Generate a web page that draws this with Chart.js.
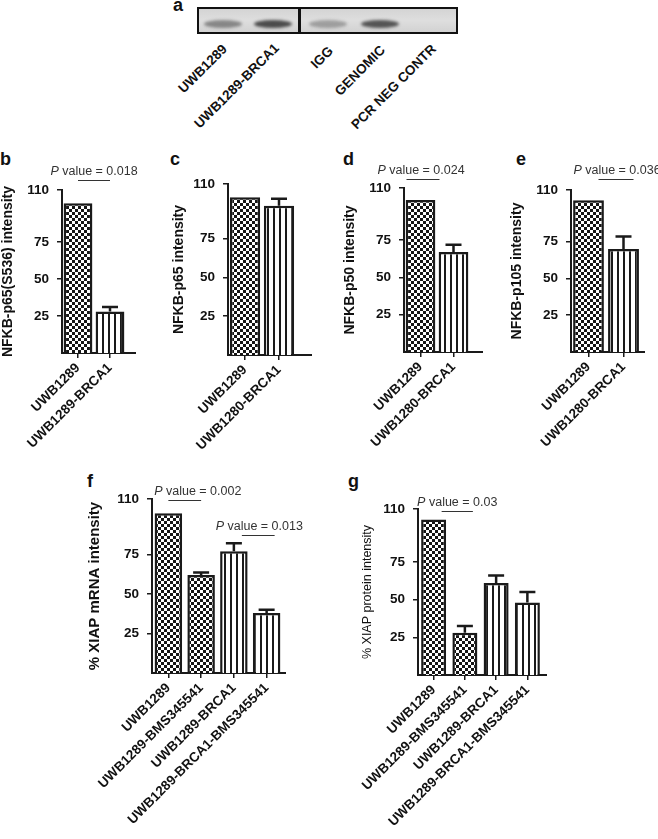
<!DOCTYPE html>
<html>
<head>
<meta charset="utf-8">
<script src="https://cdn.jsdelivr.net/npm/chart.js@4.4.0/dist/chart.umd.min.js"></script>
<style>
  body { margin: 0; background: #fff; font-family: "Liberation Sans", Arial, Helvetica, sans-serif; }
  #fig { position: relative; width: 658px; height: 839px; overflow: hidden; background: #fff; }
  #fig canvas { position: absolute; }
  .tag { position: absolute; font-weight: bold; font-size: 18px; line-height: 1; color: #111; }
  .gel { position: absolute; box-sizing: border-box; border: 2px solid #111; background: linear-gradient(#d4d4d4, #dedede 50%, #d2d2d2); overflow: hidden; }
  .band { position: absolute; border-radius: 50%; filter: blur(1.6px); }
  .lane { position: absolute; width: 200px; text-align: right; font-weight: bold; font-size: 13.5px; line-height: 16px; color: #111; transform-origin: 100% 50%; transform: rotate(-45deg); white-space: nowrap; }
</style>
</head>
<body>
<div id="fig">
  <div class="tag" style="left:173px;top:-4px;">a</div>
  <div class="tag" style="left:0px;top:150px;">b</div>
  <div class="tag" style="left:170px;top:150px;">c</div>
  <div class="tag" style="left:343px;top:150px;">d</div>
  <div class="tag" style="left:516px;top:150px;">e</div>
  <div class="tag" style="left:87px;top:472px;">f</div>
  <div class="tag" style="left:348px;top:472px;">g</div>
</div>
<script>
// ---- data ----
const yTicks = [25, 50, 75, 110];

const gelLanes = ['UWB1289', 'UWB1289-BRCA1', 'IGG', 'GENOMIC', 'PCR NEG CONTR'];
const gelBands = [0.42, 0.72, 0.3, 0.68, 0];

const labelsB = ['UWB1289', 'UWB1289-BRCA1'];
const valuesB = [101, 28];
const errorsB = [0, 3];
const pairsB = [[0, 1]];
const pB = ['0.018'];

const labelsC = ['UWB1289', 'UWB1280-BRCA1'];
const valuesC = [101.5, 96];
const errorsC = [0, 4.5];

const labelsD = ['UWB1289', 'UWB1280-BRCA1'];
const valuesD = [102, 67];
const errorsD = [0, 5];
const pairsD = [[0, 1]];
const pD = ['0.024'];

const labelsE = ['UWB1289', 'UWB1280-BRCA1'];
const valuesE = [103, 70];
const errorsE = [0, 8.5];
const pairsE = [[0, 1]];
const pE = ['0.036'];

const labelsF = ['UWB1289', 'UWB1289-BMS345541', 'UWB1289-BRCA1', 'UWB1289-BRCA1-BMS345541'];
const valuesF = [101, 62, 77, 38];
const errorsF = [0, 1.5, 5, 2];
const pairsF = [[0, 1], [2, 3]];
const pF = ['0.002', '0.013'];

const labelsG = ['UWB1289', 'UWB1289-BMS345541', 'UWB1289-BRCA1', 'UWB1289-BRCA1-BMS345541'];
const valuesG = [103, 28, 61, 48];
const errorsG = [0, 4.5, 5, 7];
const pairsG = [[0, 1]];
const pG = ['0.03'];

// ---- look ----
const ink = '#1a1a1a';
const FAM = '"Liberation Sans", Arial, Helvetica, sans-serif';
const fig = document.getElementById('fig');

function checker() {
    const c = document.createElement('canvas');
    c.width = 6; c.height = 6;
    const x = c.getContext('2d');
    x.fillStyle = '#fff'; x.fillRect(0, 0, 6, 6);
    x.fillStyle = '#151515'; x.fillRect(0, 0, 3, 3); x.fillRect(3, 3, 3, 3);
    return x.createPattern(c, 'repeat');
}
function stripes() {
    const c = document.createElement('canvas');
    c.width = 6; c.height = 4;
    const x = c.getContext('2d');
    x.fillStyle = '#fff'; x.fillRect(0, 0, 6, 4);
    x.fillStyle = '#1a1a1a'; x.fillRect(0, 0, 2, 4);
    return x.createPattern(c, 'repeat');
}
const CHECK = checker(), STRIPE = stripes();

// gel strip (panel a)
const gel = document.createElement('div');
gel.className = 'gel';
gel.style.cssText = 'left:197px;top:7px;width:261px;height:27px;';
fig.appendChild(gel);
const divider = document.createElement('div');
divider.style.cssText = 'position:absolute;left:99px;top:0;width:3px;height:100%;background:#111;';
gel.appendChild(divider);
const laneX = [26, 76, 131, 183, 235];
const laneEnd = [[225, 47], [277, 46], [331, 49], [383, 48], [434, 47]];
gelLanes.forEach((name, i) => {
    if (gelBands[i] > 0) {
        const b = document.createElement('div');
        b.className = 'band';
        b.style.cssText = `left:${laneX[i] - 21}px;top:11px;width:38px;height:8px;background:rgba(20,20,20,${gelBands[i]});`;
        gel.appendChild(b);
    }
    const t = document.createElement('div');
    t.className = 'lane';
    t.textContent = name;
    t.style.left = (laneEnd[i][0] - 200) + 'px';
    t.style.top = (laneEnd[i][1] - 8) + 'px';
    fig.appendChild(t);
});

// error whiskers, p-value bars and the x axis running past the last bar
const extras = {
    id: 'extras',
    afterDatasetsDraw(chart, args, o) {
        const ctx = chart.ctx, xs = chart.scales.x, ys = chart.scales.y, a = chart.chartArea;
        ctx.save();
        ctx.strokeStyle = ink;
        ctx.lineWidth = 2;
        ctx.beginPath();
        ctx.moveTo(a.right - 1, a.bottom);
        ctx.lineTo(a.right + o.tail, a.bottom);
        ctx.stroke();

        ctx.lineWidth = 2.5;
        o.values.forEach((v, i) => {
            const e = o.errors[i];
            if (!e) return;
            const cx = xs.getPixelForValue(i);
            const y0 = ys.getPixelForValue(v), y1 = ys.getPixelForValue(v + e);
            ctx.beginPath();
            ctx.moveTo(cx, y0); ctx.lineTo(cx, y1);
            ctx.moveTo(cx - 8, y1); ctx.lineTo(cx + 8, y1);
            ctx.stroke();
        });

        o.pairs.forEach((pr, k) => {
            const s = o.sig[k];
            const x0 = xs.getPixelForValue(pr[0]) + s.lineDx;
            const x1 = xs.getPixelForValue(pr[1]) + s.lineDx;
            const ly = Math.round(ys.getPixelForValue(s.level)) + 0.5;
            ctx.strokeStyle = '#333';
            ctx.lineWidth = 1;
            ctx.beginPath(); ctx.moveTo(x0, ly); ctx.lineTo(x1, ly); ctx.stroke();

            const rest = ' value = ' + o.texts[k];
            ctx.font = 'italic 12.5px ' + FAM;
            const wP = ctx.measureText('P').width;
            ctx.font = '12.5px ' + FAM;
            const wR = ctx.measureText(rest).width;
            const cx = (x0 + x1) / 2 - s.lineDx + s.textDx;
            const tx = cx - (wP + wR) / 2, ty = ly - 6;
            ctx.fillStyle = '#333';
            ctx.textAlign = 'left';
            ctx.textBaseline = 'alphabetic';
            ctx.font = 'italic 12.5px ' + FAM;
            ctx.fillText('P', tx, ty);
            ctx.font = '12.5px ' + FAM;
            ctx.fillText(rest, tx + wP, ty);
        });
        ctx.restore();
    }
};

function makePanel(p) {
    const cv = document.createElement('canvas');
    cv.width = p.box.w; cv.height = p.box.h;
    cv.style.left = p.box.x + 'px';
    cv.style.top = p.box.y + 'px';
    fig.appendChild(cv);
    const a = p.area;
    new Chart(cv, {
        type: 'bar',
        data: {
            labels: p.labels,
            datasets: [{
                data: p.values,
                backgroundColor: p.fills.map(f => f === 'c' ? CHECK : STRIPE),
                borderColor: ink,
                borderWidth: 2.5,
                barPercentage: p.barPct,
                categoryPercentage: 1
            }]
        },
        options: {
            responsive: false,
            animation: false,
            layout: { padding: { top: a.t - p.box.y, right: p.box.x + p.box.w - a.r, left: 0, bottom: 0 } },
            plugins: {
                legend: { display: false },
                tooltip: { enabled: false },
                extras: { values: p.values, errors: p.errors, pairs: p.pairs, texts: p.texts, sig: p.sig, tail: p.tail }
            },
            scales: {
                x: {
                    grid: { offset: false, drawOnChartArea: false, tickLength: 5, color: ink, lineWidth: 1.5 },
                    border: { color: ink, width: 2 },
                    ticks: { font: { family: FAM, size: 13.5, weight: 'bold' }, color: '#111', maxRotation: 45, minRotation: 45, autoSkip: false, padding: 2 },
                    afterFit: s => { s.height = p.box.y + p.box.h - a.b; s.paddingLeft = 0; s.paddingRight = 0; }
                },
                y: {
                    min: 0, max: 110,
                    afterBuildTicks: s => { s.ticks = yTicks.map(v => ({ value: v })); },
                    grid: { drawOnChartArea: false, tickLength: 5, color: ink, lineWidth: 1.5 },
                    border: { color: ink, width: 2 },
                    ticks: { font: { family: FAM, size: 13.5, weight: 'bold' }, color: '#111', padding: 8 },
                    title: { display: true, text: p.yTitle, font: p.titleFont, color: '#111', padding: { top: p.titlePad, bottom: 0 } },
                    afterFit: s => { s.width = a.l - p.box.x; s.paddingTop = 0; s.paddingBottom = 0; }
                }
            }
        },
        plugins: [extras]
    });
}

const boldT = { family: FAM, size: 14, weight: 'bold' };

makePanel({
    box: { x: 0, y: 140, w: 150, h: 310 }, area: { l: 62, t: 190, r: 126, b: 353 }, tail: 10,
    labels: labelsB, values: valuesB, errors: errorsB, fills: ['c', 's'], barPct: 0.9,
    pairs: pairsB, texts: pB, sig: [{ level: 117, lineDx: 0, textDx: 0 }],
    yTitle: 'NFKB-p65(S536) intensity', titleFont: boldT, titlePad: 0
});
makePanel({
    box: { x: 171, y: 140, w: 160, h: 310 }, area: { l: 228, t: 184, r: 296, b: 355 }, tail: 16,
    labels: labelsC, values: valuesC, errors: errorsC, fills: ['c', 's'], barPct: 0.89,
    pairs: [], texts: [], sig: [],
    yTitle: 'NFKB-p65 intensity', titleFont: boldT, titlePad: 0
});
makePanel({
    box: { x: 342, y: 140, w: 150, h: 310 }, area: { l: 404, t: 188, r: 470, b: 352 }, tail: 13,
    labels: labelsD, values: valuesD, errors: errorsD, fills: ['c', 's'], barPct: 0.9,
    pairs: pairsD, texts: pD, sig: [{ level: 116, lineDx: -14, textDx: -16 }],
    yTitle: 'NFKB-p50 intensity', titleFont: boldT, titlePad: 0
});
makePanel({
    box: { x: 509, y: 140, w: 149, h: 310 }, area: { l: 571, t: 190, r: 641, b: 352 }, tail: 4,
    labels: labelsE, values: valuesE, errors: errorsE, fills: ['c', 's'], barPct: 0.88,
    pairs: pairsE, texts: pE, sig: [{ level: 117.5, lineDx: 10, textDx: 11 }],
    yTitle: 'NFKB-p105 intensity', titleFont: boldT, titlePad: 0
});
makePanel({
    box: { x: 86, y: 455, w: 221, h: 384 }, area: { l: 152, t: 499, r: 283, b: 673 }, tail: 3,
    labels: labelsF, values: valuesF, errors: errorsF, fills: ['c', 'c', 's', 's'], barPct: 0.84,
    pairs: pairsF, texts: pF, sig: [{ level: 109.5, lineDx: 0, textDx: 13 }, { level: 87.5, lineDx: 8, textDx: 9 }],
    yTitle: '% XIAP mRNA intensity', titleFont: { family: FAM, size: 15, weight: 'bold' }, titlePad: 0
});
makePanel({
    box: { x: 360, y: 455, w: 230, h: 384 }, area: { l: 418, t: 509, r: 543, b: 675 }, tail: 4,
    labels: labelsG, values: valuesG, errors: errorsG, fills: ['c', 'c', 's', 's'], barPct: 0.8,
    pairs: pairsG, texts: pG, sig: [{ level: 109, lineDx: 8, textDx: 8 }],
    yTitle: '% XIAP protein intensity', titleFont: { family: FAM, size: 12.5 }, titlePad: 0
});
</script>
</body>
</html>
